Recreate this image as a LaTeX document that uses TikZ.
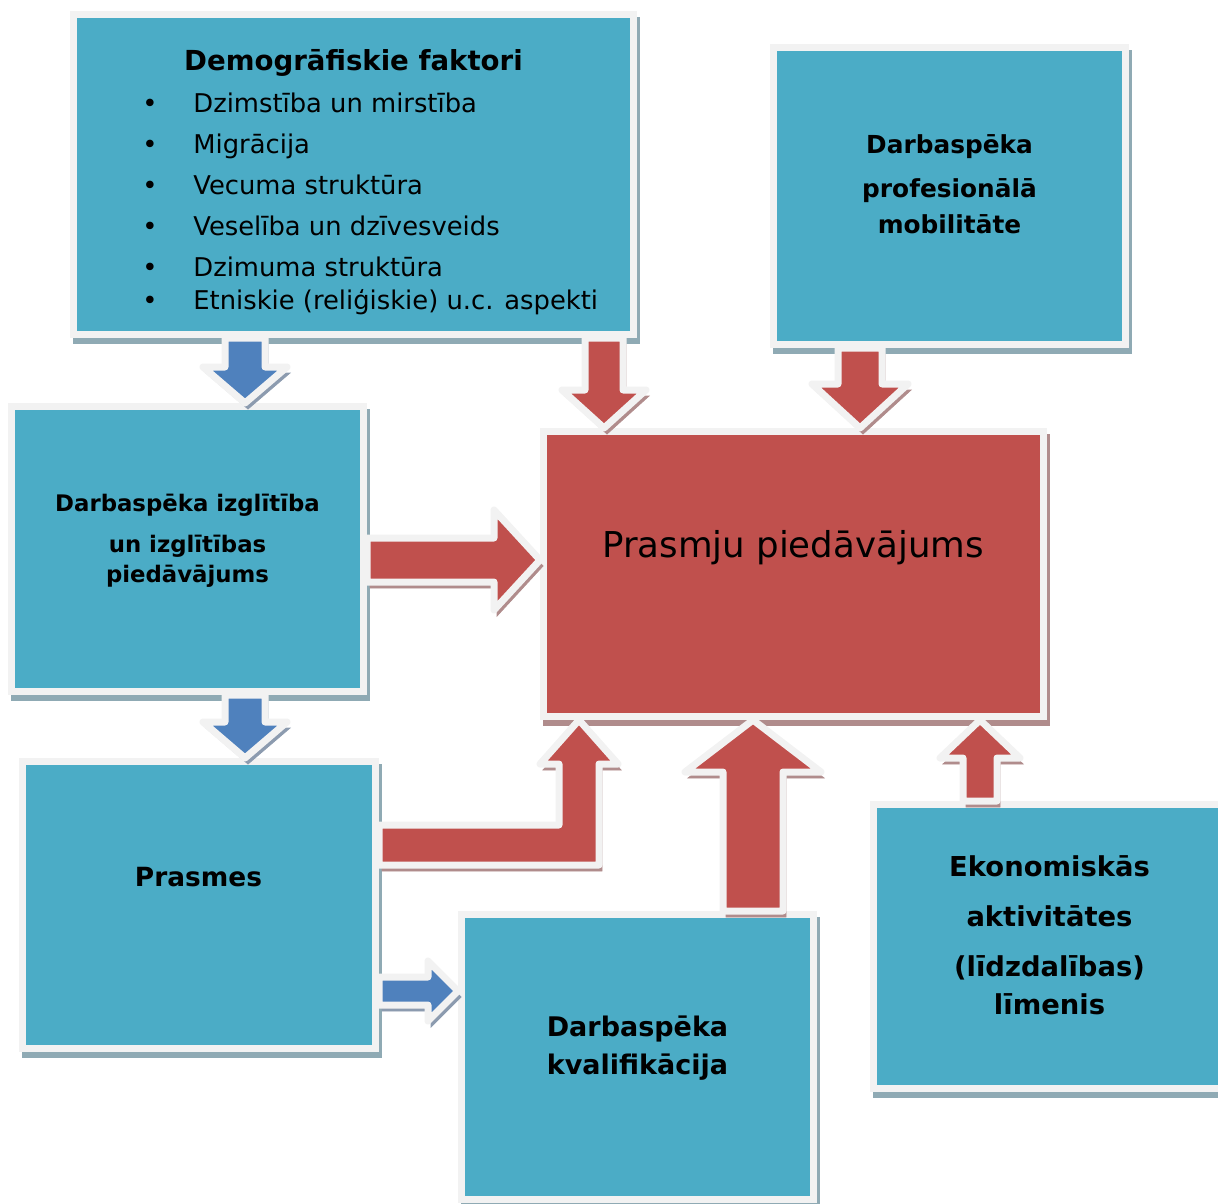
\documentclass[tikz,border=0pt]{standalone}
\usepackage{fontspec}
\setmainfont{DejaVu Sans}
\usetikzlibrary{calc}
\definecolor{tealbox}{HTML}{4BACC6}
\definecolor{redbox}{HTML}{C0504D}
\definecolor{bluearr}{HTML}{4F81BD}
\definecolor{framegray}{HTML}{F2F2F2}
\definecolor{shteal}{HTML}{8FAAB4}
\definecolor{shred}{HTML}{B08C8C}
\definecolor{shblue}{HTML}{8C9BAF}
\tikzset{
  shadowed/.style={preaction={fill=#1,draw=#1,transform canvas={xshift=1.5pt,yshift=-3pt}}},
  box/.style={draw=framegray,line width=3.5pt,fill=tealbox,inner sep=0pt,shadowed=shteal},
  arrowline/.style={draw=framegray,line width=3.5pt,line join=round},
  redarrow/.style={arrowline,fill=redbox,shadowed=shred},
  bluearrow/.style={arrowline,fill=bluearr,shadowed=shblue},
  boxtext/.style={align=center,inner sep=0pt,font=\bfseries\fontsize{#1}{19}\selectfont}
}
% block arrow: style, tail, tip, half shaft, half head, head length
\newcommand{\blockarrow}[6]{%
  \coordinate (hb) at ($(#3)!#6!(#2)$);
  \draw[#1] ($(#2)!#4!90:(#3)$) -- ($(hb)!#4!90:(#3)$) -- ($(hb)!#5!90:(#3)$) -- (#3)
    -- ($(hb)!#5!-90:(#3)$) -- ($(hb)!#4!-90:(#3)$) -- ($(#2)!#4!-90:(#3)$) -- cycle;}
\begin{document}
\begin{tikzpicture}[x=0.5pt,y=-0.5pt]
\useasboundingbox (0,0) rectangle (1218,1203);
% boxes
\node[box,minimum width=280pt,minimum height=160pt] (demo) at (353.5,174.5) {};
\node[box,minimum width=176pt,minimum height=148.5pt] (mobil) at (949.5,196) {};
\node[box,fill=redbox,shadowed=shred,minimum width=250pt,minimum height=142.5pt] (center) at (793.5,574) {};
\node[box,minimum width=176pt,minimum height=142.5pt] (edu) at (187.5,549) {};
\node[box,minimum width=176.5pt,minimum height=143.5pt] (skills) at (199,905) {};
\node[box,minimum width=176pt,minimum height=142.5pt] (qual) at (637.5,1057) {};
\node[box,minimum width=176pt,minimum height=142pt] (econ) at (1049.5,946.5) {};
% texts
\node[boxtext=13.8,anchor=base] (demo-t) at (353.5,71) {Demogrāfiskie faktori};
\foreach \y/\txt [count=\i] in {113/{Dzimstība un mirstība},154/{Migrācija},195/{Vecuma struktūra},236/{Veselība un dzīvesveids},277/{Dzimuma struktūra},309/{Etniskie (reliģiskie) u.c. aspekti}}{
  \node[anchor=base,font=\fontsize{12.9}{15}\selectfont] (dot\i) at (150,\y) {•};
  \node[anchor=base west,inner sep=0pt,font=\fontsize{12.9}{15}\selectfont] (item\i) at (193,\y) {\txt};
}
\node[boxtext=12.4,font=\bfseries\fontsize{12.4}{18}\selectfont] (mobil-t) at (949.5,184) {Darbaspēka\\[4pt]profesionālā\\mobilitāte};
\node[boxtext=11.4,font=\bfseries\fontsize{11.4}{15}\selectfont] (edu-t) at (187.5,541) {Darbaspēka izglītība\\[5.5pt]un izglītības\\piedāvājums};
\node[boxtext=13.2,anchor=base] (skills-t) at (198.5,886) {Prasmes};
\node[boxtext=13.5] (qual-t) at (637.5,1048) {Darbaspēka\\kvalifikācija};
\node[boxtext=13.7] (econ-t) at (1049.5,935.5) {Ekonomiskās\\[6pt]aktivitātes\\[6pt](līdzdalības)\\līmenis};
\node[anchor=base,inner sep=0pt,font=\fontsize{17.8}{21}\selectfont] (center-t) at (793,557) {Prasmju piedāvājums};
% arrows
\blockarrow{bluearrow}{demo.south -| 245,0}{edu.north -| 245,0}{10pt}{21pt}{18pt}
\blockarrow{bluearrow}{edu.south -| 245,0}{skills.north -| 245,0}{10pt}{21pt}{18pt}
\blockarrow{redarrow}{demo.south -| 604,0}{center.north -| 604,0}{9.5pt}{21pt}{19pt}
\blockarrow{redarrow}{mobil.south -| 860,0}{center.north -| 860,0}{11pt}{24pt}{22pt}
\blockarrow{redarrow}{edu.east |- 0,560}{center.west |- 0,560}{11pt}{25pt}{23pt}
\blockarrow{redarrow}{qual.north -| 753,0}{center.south -| 753,0}{15pt}{34pt}{26pt}
\blockarrow{redarrow}{econ.north -| 980,0}{center.south -| 980,0}{8.5pt}{20pt}{19pt}
\blockarrow{bluearrow}{skills.east |- 0,991}{qual.west |- 0,991}{7pt}{15pt}{15pt}
\coordinate (k) at (center.south -| 579,0);
\coordinate (kb) at (skills.east |- 0,845);
\draw[redarrow] (kb) ++(0,-20) -| ($(k)+(-20,44)$) -- ++(-19,0) -- (k) -- ++(39,44) -- ++(-19,0) |- ($(kb)+(0,20)$) -- cycle;
\end{tikzpicture}
\end{document}
